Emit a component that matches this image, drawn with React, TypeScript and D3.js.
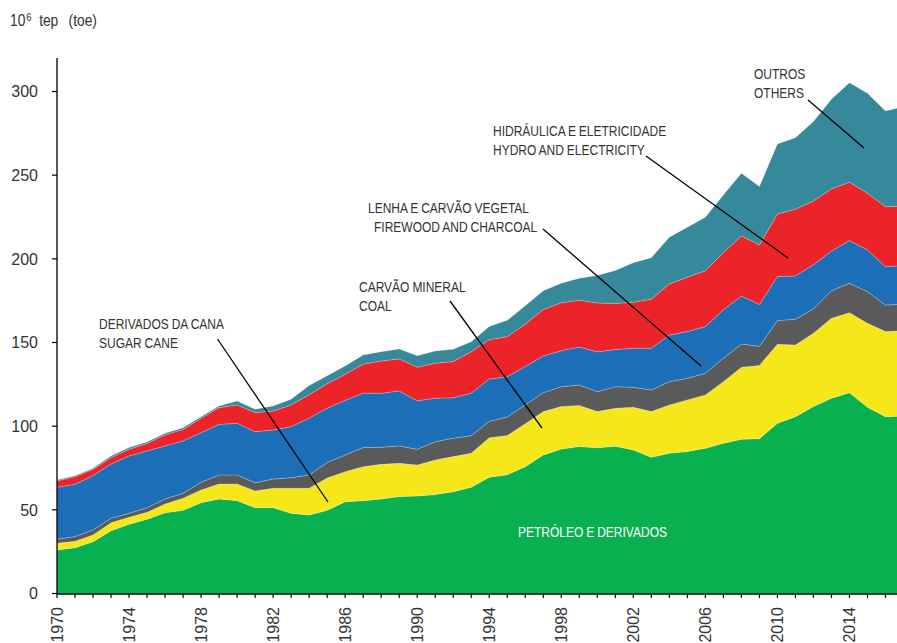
import React from 'react';
import * as d3 from 'd3';

const years = [
  1970, 1971, 1972, 1973, 1974, 1975, 1976, 1977, 1978, 1979,
  1980, 1981, 1982, 1983, 1984, 1985, 1986, 1987, 1988, 1989,
  1990, 1991, 1992, 1993, 1994, 1995, 1996, 1997, 1998, 1999,
  2000, 2001, 2002, 2003, 2004, 2005, 2006, 2007, 2008, 2009,
  2010, 2011, 2012, 2013, 2014, 2015, 2016, 2017,
];

const petroleo = [
  26.0, 27.4, 31.0, 37.5, 41.4, 44.4, 48.3, 49.7, 54.3, 56.5,
  55.5, 51.3, 51.3, 47.9, 46.9, 49.7, 54.9, 55.5, 56.5, 57.9,
  58.3, 59.1, 60.8, 63.5, 69.5, 71.0, 75.8, 82.8, 86.3, 87.8,
  87.1, 88.0, 85.8, 81.4, 83.8, 84.8, 86.8, 89.8, 92.2, 92.5,
  101.7, 105.7, 111.7, 116.7, 120.0, 111.3, 105.7, 106.0,
];
const cana = [
  4.0, 3.8, 4.0, 4.8, 4.1, 4.1, 5.2, 7.2, 7.6, 9.0,
  10.0, 10.0, 11.6, 15.0, 16.0, 19.3, 17.9, 20.3, 20.7, 19.9,
  18.5, 20.7, 21.0, 20.3, 23.6, 23.4, 25.7, 25.9, 25.4, 24.6,
  21.6, 22.7, 25.5, 27.3, 28.9, 30.9, 31.9, 36.8, 43.0, 43.8,
  47.3, 42.8, 43.8, 47.8, 47.8, 50.2, 50.8, 51.0,
];
const carvao = [
  2.4, 2.8, 3.0, 2.7, 2.4, 2.8, 3.0, 3.0, 4.6, 5.3,
  5.3, 4.9, 5.5, 6.3, 7.9, 9.3, 10.0, 11.4, 10.2, 10.4,
  9.4, 10.9, 11.0, 10.5, 9.8, 11.1, 11.2, 11.3, 11.9, 12.2,
  11.9, 12.9, 11.9, 12.9, 13.9, 12.9, 12.9, 14.0, 13.9, 11.4,
  14.1, 15.4, 14.6, 16.5, 17.6, 18.9, 15.9, 16.0,
];
const lenha = [
  31.1, 31.3, 32.4, 32.4, 34.3, 33.9, 31.7, 31.3, 29.6, 30.3,
  30.9, 30.5, 29.3, 30.5, 34.0, 32.4, 32.7, 32.5, 32.3, 32.8,
  29.0, 26.0, 24.2, 25.4, 25.3, 24.1, 22.9, 22.0, 21.5, 22.7,
  23.8, 22.2, 23.4, 25.0, 27.9, 27.9, 27.9, 28.9, 28.7, 25.0,
  26.3, 25.9, 26.3, 23.7, 25.5, 24.9, 22.9, 23.0,
];
const hidro = [
  3.8, 4.5, 3.8, 3.8, 4.0, 4.4, 6.6, 6.8, 8.6, 10.0,
  11.0, 11.4, 11.4, 13.0, 14.0, 14.7, 15.5, 17.3, 19.3, 19.2,
  20.0, 20.9, 21.6, 24.8, 23.5, 23.9, 25.4, 27.7, 28.7, 27.9,
  29.2, 27.5, 27.5, 29.3, 30.5, 32.5, 33.4, 34.2, 35.9, 35.6,
  37.4, 39.8, 38.2, 37.1, 34.9, 33.9, 35.9, 35.5,
];
const outros = [
  0.5, 0.6, 0.6, 1.0, 1.0, 1.0, 1.0, 1.1, 1.0, 1.0,
  2.4, 2.0, 3.0, 3.4, 5.5, 4.7, 5.0, 5.6, 5.5, 5.9,
  6.9, 7.3, 7.4, 6.0, 7.8, 9.8, 10.9, 11.2, 11.6, 13.2,
  16.5, 19.8, 23.6, 24.8, 27.9, 29.9, 32.0, 34.5, 37.5, 34.9,
  41.9, 42.8, 47.4, 53.6, 59.5, 59.8, 57.2, 59.5,
];

const seriesKeys = ['petroleo', 'cana', 'carvao', 'lenha', 'hidro', 'outros'];
const seriesColors = ['#08b04f', '#f5e71a', '#5a5a5a', '#1c6fb7', '#ec2328', '#36889b'];

const yTicks = [0, 50, 100, 150, 200, 250, 300];
const xLabelYears = [1970, 1974, 1978, 1982, 1986, 1990, 1994, 1998, 2002, 2006, 2010, 2014];

const annotations = [
  { lines: ['OUTROS', 'OTHERS'], x: 754, y: 79, dx: [0, 0], from: [808, 100], to: [864, 148] },
  { lines: ['HIDRÁULICA E ELETRICIDADE', 'HYDRO AND ELECTRICITY'], x: 493, y: 136, dx: [0, 0], from: [646, 156], to: [788, 258] },
  { lines: ['LENHA E CARVÃO VEGETAL', 'FIREWOOD AND CHARCOAL'], x: 368, y: 213, dx: [0, 6], from: [543, 229], to: [701, 366] },
  { lines: ['CARVÃO MINERAL', 'COAL'], x: 359, y: 292, dx: [0, 0], from: [450, 301], to: [542, 428] },
  { lines: ['DERIVADOS DA CANA', 'SUGAR CANE'], x: 99, y: 329, dx: [0, 0], from: [217.5, 339], to: [328, 502] },
];

const REG = "'Liberation Sans', Arial, sans-serif";

export default function App() {
  const W = 897;
  const H = 643;
  const x = d3.scaleLinear().domain([1970, 2017]).range([57, 903.5]);
  const y = d3.scaleLinear().domain([0, 300]).range([593.5, 91.5]);

  const table = years.map((yr, i) => ({
    year: yr,
    petroleo: petroleo[i],
    cana: cana[i],
    carvao: carvao[i],
    lenha: lenha[i],
    hidro: hidro[i],
    outros: outros[i],
  }));
  const stacked = d3.stack<any>().keys(seriesKeys)(table);
  const area = d3
    .area<any>()
    .x((d) => x(d.data.year))
    .y0((d) => y(d[0]))
    .y1((d) => y(d[1]));

  return (
    <svg
      width={W}
      height={H}
      style={{ position: 'absolute', left: 0, top: 0, background: '#fff' }}
    >
      <defs>
        <clipPath id="plot">
          <rect x={57} y={0} width={W - 57} height={594} />
        </clipPath>
      </defs>
      <g clipPath="url(#plot)">
        {stacked.map((s, i) => (
          <path
            key={s.key}
            d={area(s) || ''}
            fill={seriesColors[i]}
            stroke="#ffffff"
            strokeOpacity={0.35}
            strokeWidth={0.6}
          />
        ))}
      </g>

      {/* Y axis */}
      <line x1={57} x2={57} y1={58} y2={594} stroke="#000" strokeWidth={1.3} />
      {yTicks.map((t) => (
        <g key={t}>
          <line x1={52} x2={57} y1={y(t)} y2={y(t)} stroke="#000" strokeWidth={1.2} />
          <text
            x={38}
            y={y(t)}
            dy="0.36em"
            textAnchor="end"
            fontFamily={REG}
            fontSize={16}
            fill="#333"
          >
            {t}
          </text>
        </g>
      ))}

      {/* X axis */}
      <line x1={57} x2={W} y1={594} y2={594} stroke="#000" strokeWidth={1.3} />
      {years.map((yr) => (
        <line key={yr} x1={x(yr)} x2={x(yr)} y1={594} y2={598} stroke="#000" strokeWidth={1.2} />
      ))}
      {xLabelYears.map((yr) => (
        <text
          key={yr}
          transform={`translate(${x(yr)},607) rotate(-90)`}
          dy="0.36em"
          textAnchor="end"
          fontFamily={REG}
          fontSize={16}
          fill="#333"
        >
          {yr}
        </text>
      ))}

      {/* Unit title */}
      <text transform="translate(10,26) scale(0.86,1)" fontFamily={REG} fontSize={16} fill="#333">
        10
        <tspan fontSize={11} dy={-5} dx={1}>6</tspan>
        <tspan dy={5} dx={9}>tep</tspan>
        <tspan dx={12}>(toe)</tspan>
      </text>

      {/* Annotations */}
      {annotations.map((a, i) => (
        <g key={i}>
          {a.lines.map((ln, j) => (
            <text
              key={j}
              transform={`translate(${a.x + a.dx[j]},${a.y + j * 18.5}) scale(0.8,1)`}
              fontFamily={REG}
              fontSize={15}
              wordSpacing={-0.5}
              fill="#333"
            >
              {ln}
            </text>
          ))}
          <line
            x1={a.from[0]}
            y1={a.from[1]}
            x2={a.to[0]}
            y2={a.to[1]}
            stroke="#000"
            strokeWidth={1.3}
          />
        </g>
      ))}

      <text
        transform="translate(518,537) scale(0.8,1)"
        fontFamily={REG}
        fontSize={15}
        wordSpacing={-0.5}
        fill="#fff"
      >
        PETRÓLEO E DERIVADOS
      </text>
    </svg>
  );
}
